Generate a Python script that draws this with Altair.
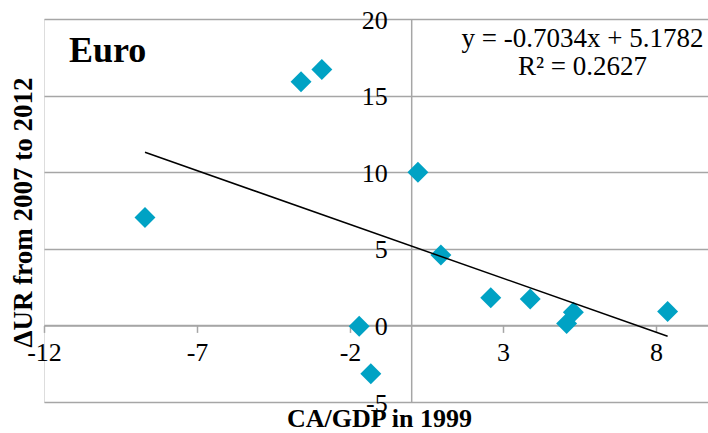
import altair as alt
import pandas as pd

# ---- data ----
ca_gdp_1999 = [-8.70, -3.60, -2.92, 0.22, 0.97, -1.70, -1.32, 2.60, 3.89, 5.08, 5.30, 8.38]
d_ur_2007_2012 = [7.05, 15.9, 16.7, 10.0, 4.6, -0.05, -3.15, 1.8, 1.72, 0.12, 0.86, 0.9]
x_ticks = [-12, -7, -2, 3, 8]
y_ticks = [-5, 0, 5, 10, 15, 20]
x_domain = [-12, 9.7]
y_domain = [-5, 20]
panel_label = ["Euro"]
equation_lines = ["y = -0.7034x + 5.1782", "R² = 0.2627"]
x_title = "CA/GDP in 1999"
y_title = "ΔUR from 2007 to 2012"

df = pd.DataFrame({"ca": ca_gdp_1999, "dur": d_ur_2007_2012})

W, H = 664, 383
FONT = "Times New Roman, Liberation Serif, serif"
GREY = "#A6A6A6"
TEAL = "#00A2C4"

# axes cross at the origin
y_axis_offset = -(0 - x_domain[0]) / (x_domain[1] - x_domain[0]) * W
x_axis_offset = -(0 - y_domain[0]) / (y_domain[1] - y_domain[0]) * H

x_scale = alt.Scale(domain=x_domain, nice=False, zero=False)
y_scale = alt.Scale(domain=y_domain, nice=False, zero=False)

x_axis = alt.Axis(
    values=x_ticks, offset=x_axis_offset, grid=False,
    domainColor=GREY, domainWidth=1.5, tickColor=GREY, tickWidth=1.5, tickSize=7,
    labelFont=FONT, labelFontSize=26, labelColor="black", labelPadding=7,
    labelFlush=False, labelOverlap=False, labelExpr="datum.value + ''",
    title=x_title, titleFont=FONT, titleFontSize=26, titleFontWeight="bold",
    titleColor="black", titleY=93, titleX=335, titleBaseline="middle",
)
y_axis = alt.Axis(
    values=y_ticks, offset=y_axis_offset, grid=True, gridColor=GREY, gridWidth=1.5,
    ticks=False, domainColor=GREY, domainWidth=1.5,
    labelFont=FONT, labelFontSize=26, labelColor="black", labelPadding=24,
    labelFlush=False, labelOverlap=False, labelBaseline="middle", labelOffset=1,
    labelExpr="datum.value + ''",
    title=y_title, titleFont=FONT, titleFontSize=27, titleFontWeight="bold",
    titleColor="black", titleAngle=-90, titleX=y_axis_offset - 21, titleY=193,
    titleBaseline="middle", titleAlign="center",
)

base = alt.Chart(df)

points = base.mark_point(
    shape="diamond", filled=True, size=440, color=TEAL, opacity=1
).encode(
    x=alt.X("ca:Q", scale=x_scale, axis=x_axis),
    y=alt.Y("dur:Q", scale=y_scale, axis=y_axis),
)

trend = base.transform_regression("ca", "dur").mark_line(
    color="black", strokeWidth=1.5
).encode(
    x=alt.X("ca:Q", scale=x_scale),
    y=alt.Y("dur:Q", scale=y_scale),
)

euro = alt.Chart(pd.DataFrame({"t": panel_label})).mark_text(
    font=FONT, fontSize=36, fontWeight="bold", align="left",
    baseline="alphabetic", color="black"
).encode(x=alt.value(25), y=alt.value(43), text="t:N")

eq = alt.Chart(pd.DataFrame({"t": ["\n".join(equation_lines)]})).mark_text(
    font=FONT, fontSize=27, align="center", baseline="alphabetic",
    lineBreak="\n", lineHeight=28.5, color="black"
).encode(x=alt.value(538.5), y=alt.value(27.5), text="t:N")

chart = alt.layer(points, trend, euro, eq).properties(
    width=W, height=H,
    autosize=alt.AutoSizeParams(type="none"),
    padding={"left": 44, "top": 19, "right": 0, "bottom": 31},
).configure_view(stroke=None).configure(background="white")

chart.save("out.html", embed_options={"renderer": "svg", "actions": False})
